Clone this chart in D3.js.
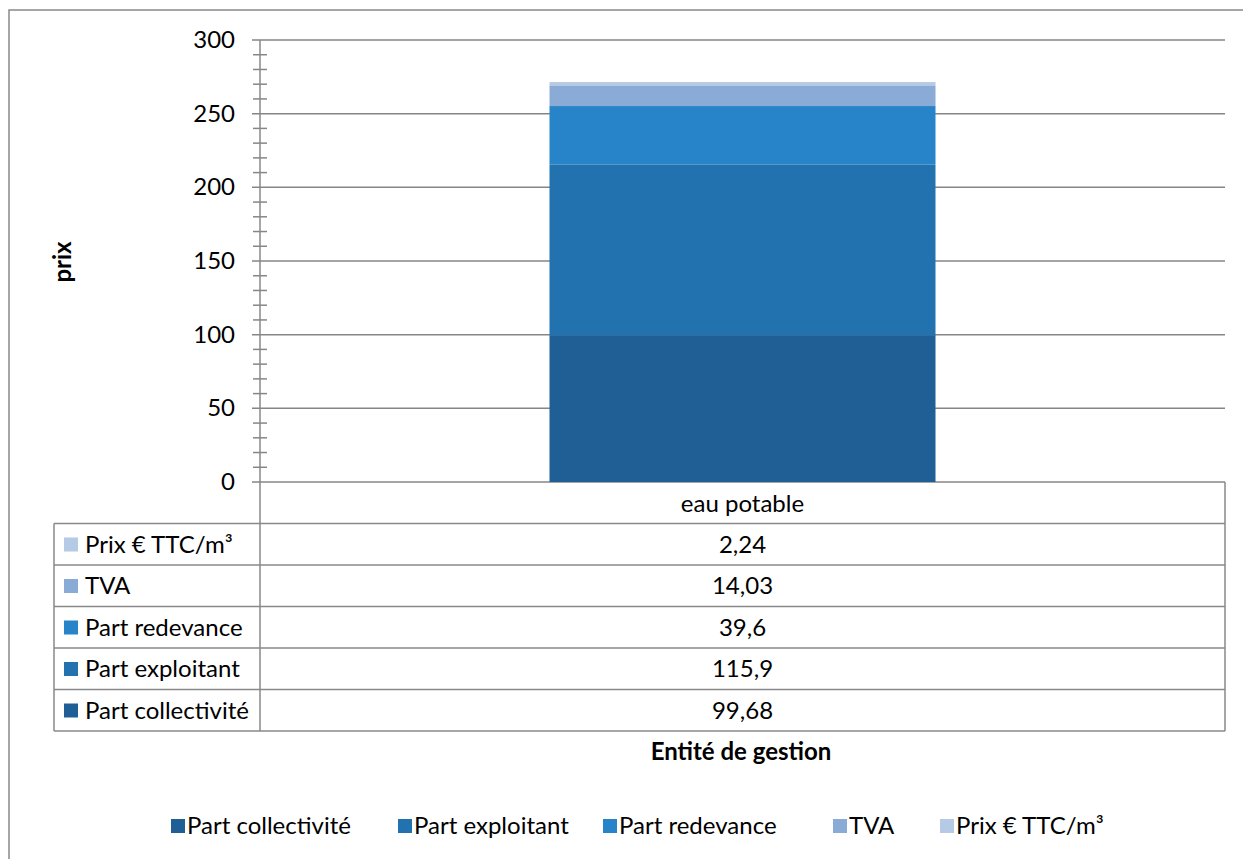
<!DOCTYPE html>
<html>
<head>
<meta charset="utf-8">
<script src="https://cdn.jsdelivr.net/npm/d3@7"></script>
<style>
  body { margin: 0; background: #fff; }
  text { font-family: Lato, "Liberation Sans", sans-serif; fill: #000; }
</style>
</head>
<body>
<script>
// chart data
var categories = ["eau potable"];
var seriesNames = ["Part collectivité", "Part exploitant", "Part redevance", "TVA", "Prix € TTC/m³"];
var seriesValues = [[99.68], [115.9], [39.6], [14.03], [2.24]];
var valueLabels = [["99,68"], ["115,9"], ["39,6"], ["14,03"], ["2,24"]];
var yTicks = [0, 50, 100, 150, 200, 250, 300];
var colors = ["#1F5F95", "#2372B0", "#2784C9", "#89ABD6", "#B5CAE4"];

var w = 1243, h = 859;
var svg = d3.select("body").append("svg")
    .attr("width", w)
    .attr("height", h);

//outer frame
svg.append("rect")
    .attr("x", 9).attr("y", 10)
    .attr("width", 1250).attr("height", 860)
    .style("fill", "#fff")
    .style("stroke", "#898989")
    .style("stroke-width", 1.5);

var plotLeft = 260, plotRight = 1225, plotTop = 40, plotBottom = 482;
var fs = "24px";

var y = d3.scaleLinear()
    .domain([0, 300])
    .range([plotBottom, plotTop]);

var x = d3.scaleBand()
    .domain(categories)
    .range([plotLeft, plotRight])
    .paddingInner(0.6)
    .paddingOuter(0.3);

//gridlines
svg.selectAll(".grid")
    .data(yTicks)
    .enter()
    .append("line")
    .attr("class", "grid")
    .attr("x1", plotLeft - 8).attr("x2", plotRight)
    .attr("y1", function(d){ return y(d); })
    .attr("y2", function(d){ return y(d); })
    .style("stroke", "#868686")
    .style("stroke-width", 1.5);

//minor ticks
var minor = d3.range(0, 301, 10).filter(function(d){ return d % 50 !== 0; });
svg.selectAll(".minor")
    .data(minor)
    .enter()
    .append("line")
    .attr("x1", plotLeft - 7).attr("x2", plotLeft + 7)
    .attr("y1", function(d){ return y(d); })
    .attr("y2", function(d){ return y(d); })
    .style("stroke", "#868686")
    .style("stroke-width", 1.5);

//tick labels
svg.selectAll(".ylab")
    .data(yTicks)
    .enter()
    .append("text")
    .attr("x", plotLeft - 25)
    .attr("y", function(d){ return y(d) + 8; })
    .attr("text-anchor", "end")
    .style("font-size", fs)
    .text(function(d){ return d; });

//stacked bar
var stackData = categories.map(function(c, i){
    var row = { cat: c };
    seriesNames.forEach(function(s, j){ row[s] = seriesValues[j][i]; });
    return row;
});
var stacked = d3.stack().keys(seriesNames)(stackData);

svg.selectAll(".layer")
    .data(stacked)
    .enter()
    .append("g")
    .style("fill", function(d, i){ return colors[i]; })
    .selectAll("rect")
    .data(function(d){ return d; })
    .enter()
    .append("rect")
    .attr("x", function(d){ return x(d.data.cat); })
    .attr("width", x.bandwidth())
    .attr("y", function(d){ return y(d[1]); })
    .attr("height", function(d){ return y(d[0]) - y(d[1]); });

//data table
var rowH = 41.5, tableTop = 523.5, tableLeft = 54;
var tableBottom = tableTop + rowH * seriesNames.length;
var lineStyle = function(sel){
    return sel.style("stroke", "#898989").style("stroke-width", 1.5);
};

//axis line continues through the table
lineStyle(svg.append("line")
    .attr("x1", plotLeft).attr("x2", plotLeft)
    .attr("y1", plotTop).attr("y2", tableBottom));
lineStyle(svg.append("line")
    .attr("x1", plotRight).attr("x2", plotRight)
    .attr("y1", plotBottom).attr("y2", tableBottom));
lineStyle(svg.append("line")
    .attr("x1", tableLeft).attr("x2", tableLeft)
    .attr("y1", tableTop).attr("y2", tableBottom));

svg.selectAll(".rowline")
    .data(d3.range(seriesNames.length + 1))
    .enter()
    .append("line")
    .attr("x1", tableLeft).attr("x2", plotRight)
    .attr("y1", function(d){ return tableTop + d * rowH; })
    .attr("y2", function(d){ return tableTop + d * rowH; })
    .style("stroke", "#898989")
    .style("stroke-width", 1.5);

//category header
svg.selectAll(".catlab")
    .data(categories)
    .enter()
    .append("text")
    .attr("x", function(d){ return x(d) + x.bandwidth() / 2; })
    .attr("y", plotBottom + 30)
    .attr("text-anchor", "middle")
    .style("font-size", fs)
    .text(function(d){ return d; });

var order = d3.range(seriesNames.length).reverse();
var rows = svg.selectAll(".trow")
    .data(order)
    .enter()
    .append("g")
    .attr("transform", function(d, i){ return "translate(0," + (tableTop + i * rowH) + ")"; });

rows.append("rect")
    .attr("x", 64).attr("y", 14)
    .attr("width", 14).attr("height", 14)
    .style("fill", function(d){ return colors[d]; });

rows.append("text")
    .attr("x", 85).attr("y", 29)
    .style("font-size", fs)
    .text(function(d){ return seriesNames[d]; });

rows.append("text")
    .attr("x", x(categories[0]) + x.bandwidth() / 2)
    .attr("y", 29)
    .attr("text-anchor", "middle")
    .style("font-size", fs)
    .text(function(d){ return valueLabels[d][0]; });

//axis titles
svg.append("text")
    .attr("transform", "translate(71,262) rotate(-90)")
    .attr("text-anchor", "middle")
    .style("font-size", fs)
    .style("font-weight", "bold")
    .text("prix");

svg.append("text")
    .attr("x", 741).attr("y", 760)
    .attr("text-anchor", "middle")
    .style("font-size", fs)
    .style("font-weight", "bold")
    .text("Entité de gestion");

//legend
var legendX = [171, 398, 603, 833, 940];
var legend = svg.selectAll(".legend")
    .data(seriesNames)
    .enter()
    .append("g")
    .attr("transform", function(d, i){ return "translate(" + legendX[i] + ",819)"; });

legend.append("rect")
    .attr("width", 14).attr("height", 14)
    .style("fill", function(d, i){ return colors[i]; });

legend.append("text")
    .attr("x", 16).attr("y", 15)
    .style("font-size", fs)
    .text(function(d){ return d; });
</script>
</body>
</html>
